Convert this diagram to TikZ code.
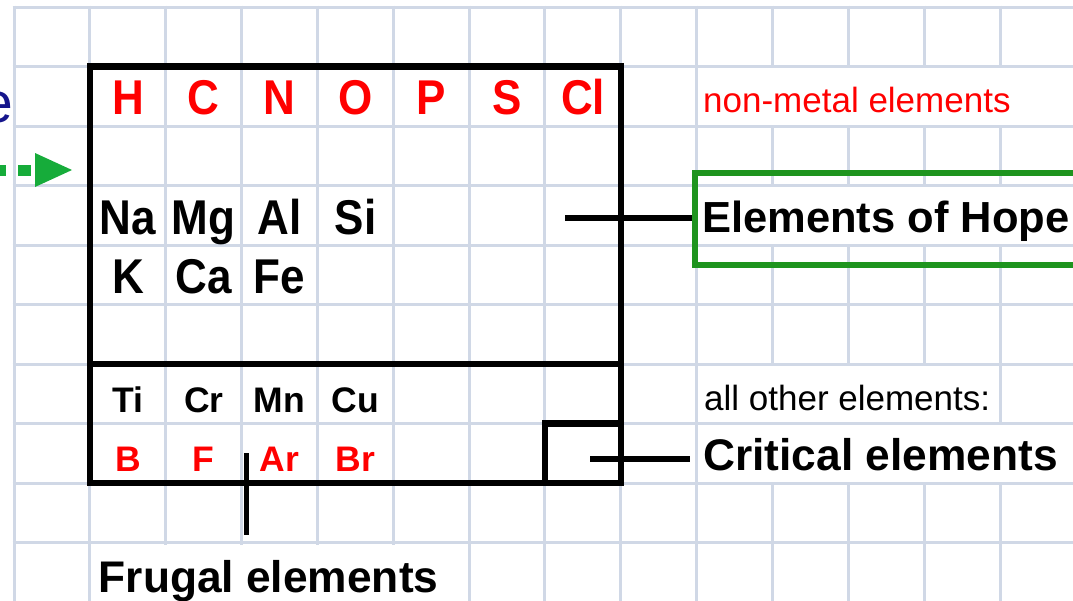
\documentclass[tikz,border=0pt]{standalone}
\usepackage{graphicx}
\usepackage{fontspec}
\setmainfont{Liberation Sans}
\definecolor{gridc}{RGB}{208,216,230}
\definecolor{elred}{RGB}{255,0,0}
\definecolor{hopegreen}{RGB}{30,148,30}
\definecolor{arrowgreen}{RGB}{22,172,58}
\definecolor{navyblue}{RGB}{22,22,140}
\newcommand{\tallsym}[1]{\scalebox{1}[1.11]{#1}}
\begin{document}
\begin{tikzpicture}[x=1pt,y=-1pt,
  gridline/.style={draw=gridc, line width=3pt},
  cellfill/.style={fill=white, draw=none},
  boxline/.style={draw=black, line width=6.5pt},
  conn/.style={draw=black, line width=5.5pt},
  bigsym/.style={anchor=base, inner sep=0pt, font=\bfseries\fontsize{44}{50}\selectfont},
  smallsym/.style={anchor=base, inner sep=0pt, font=\bfseries\fontsize{35.5}{40}\selectfont},
  boldlabel/.style={anchor=base west, inner sep=0pt, font=\bfseries\fontsize{44.3}{50}\selectfont},
  plainlabel/.style={anchor=base west, inner sep=0pt, font=\fontsize{35}{40}\selectfont}]
\useasboundingbox (0,0) rectangle (1073,600);
\fill[white] (0,0) rectangle (1073,600);
% grid
\foreach \i in {0,...,13} \draw[gridline] ({14+75.85*\i},5.5) -- ({14+75.85*\i},602);
\foreach \j in {0,...,9} \draw[gridline] (12.5,{7+59.5*\j}) -- (1075,{7+59.5*\j});
% white label cells
\fill[cellfill] (698.5,68) rectangle (1075,124.5);
\fill[cellfill] (698.5,187.3) rectangle (1075,243.7);
\fill[cellfill] (698.5,365.5) rectangle (998.5,422);
\fill[cellfill] (698.5,425) rectangle (1075,481.5);
\fill[cellfill] (91.5,544.5) rectangle (467.5,602);
% main box
\draw[boxline] (89.85,66.5) rectangle (620.8,483);
\draw[boxline] (89.85,364) -- (620.8,364);
\draw[boxline] (544.95,423.5) rectangle (620.8,483);
% element symbols
\foreach \s/\c in {H/0,C/1,N/2,O/3,P/4,S/5,Cl/6}
  \node[bigsym, text=elred] (r1\s) at ({127.9+75.85*\c},114) {\tallsym{\s}};
\foreach \s/\c in {Na/0,Mg/1,Al/2,Si/3}
  \node[bigsym] (r2\s) at ({127.9+75.85*\c},234) {\tallsym{\s}};
\foreach \s/\c in {K/0,Ca/1,Fe/2}
  \node[bigsym] (r3\s) at ({127.9+75.85*\c},293) {\tallsym{\s}};
\foreach \s/\c in {Ti/0,Cr/1,Mn/2,Cu/3}
  \node[smallsym] (r4\s) at ({127.9+75.85*\c},412) {\s};
\foreach \s/\c in {B/0,F/1,Ar/2,Br/3}
  \node[smallsym, text=elred] (r5\s) at ({127.9+75.85*\c},471) {\s};
% labels
\node[plainlabel, text=elred] (nonmetal) at (703,112) {non-metal elements};
\node[plainlabel] (allother) at (704,410) {all other elements:};
\node[boldlabel, font=\bfseries\fontsize{43.5}{50}\selectfont] (hope) at (702,232.5) {Elements of Hope};
\node[boldlabel] (critical) at (703,470) {Critical elements};
\node[boldlabel] (frugal) at (98.5,592) {Frugal elements};
% cut-off blue text and green arrow at the left edge
\node[anchor=base east, inner sep=0pt, text=navyblue, font=\fontsize{57}{60}\selectfont] (cutoff) at (13.5,122.5) {e};
\coordinate (arrowstart) at (-6,170);
\coordinate (arrowbase) at (35,170);
\coordinate (arrowtip) at (72,170);
\draw[arrowgreen, line width=11pt, dash pattern=on 12.3pt off 12pt] (arrowstart) -- (arrowbase);
\fill[arrowgreen] (arrowtip) -- ([yshift=-17pt]arrowbase) -- ([yshift=17pt]arrowbase) -- cycle;
% green box and connectors
\node[draw=hopegreen, line width=6.5pt, outer sep=3.25pt, inner sep=0pt, anchor=north west,
      minimum width=500pt, minimum height=92pt] (hopebox) at (691.75,169.75) {};
\coordinate (hopestart) at (565,218);
\coordinate (critstart) at (590,459);
\coordinate (critend) at (690,459);
\coordinate (frugstart) at (246.5,453);
\coordinate (frugend) at (246.5,535);
\draw[conn] (hopestart) -- (hopestart -| hopebox.west);
\draw[conn] (critstart) -- (critend);
\draw[conn] (frugstart) -- (frugend);
\end{tikzpicture}
\end{document}
